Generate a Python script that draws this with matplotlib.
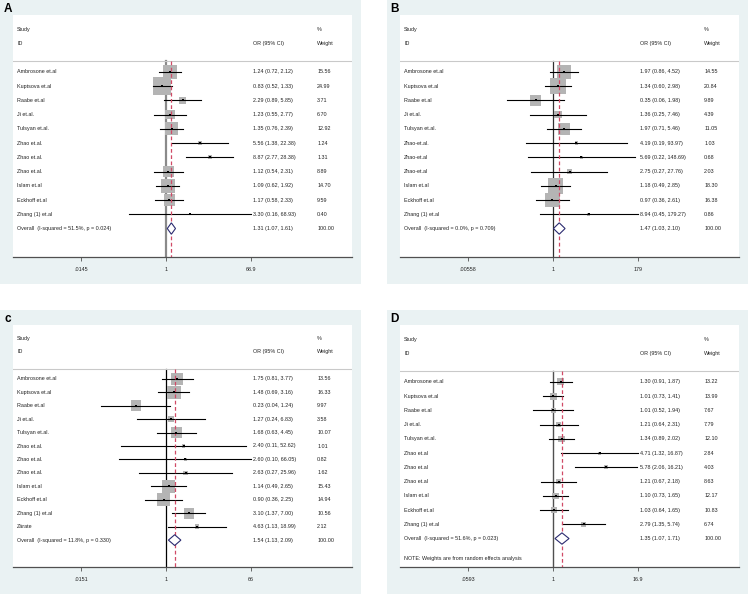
import numpy as np
import matplotlib.pyplot as plt
from matplotlib.patches import Rectangle, Polygon
from matplotlib.ticker import NullLocator
from matplotlib.transforms import blended_transform_factory

plt.rcParams['font.family'] = ['Liberation Sans', 'DejaVu Sans']

# ---- panel A ----
names_a = ["Ambrosone et.al", "Kuptsova et.al", "Raabe et.al", "Ji et.al.", "Tulsyan et.al.",
           "Zhao et.al.", "Zhao et.al.", "Zhao et.al.", "Islam et.al", "Eckhoff et.al",
           "Zhang (1) et.al"]
or_a = [1.24, 0.83, 2.29, 1.23, 1.35, 5.56, 8.87, 1.12, 1.09, 1.17, 3.30]
lo_a = [0.72, 0.52, 0.89, 0.55, 0.76, 1.38, 2.77, 0.54, 0.62, 0.58, 0.16]
hi_a = [2.12, 1.33, 5.85, 2.77, 2.39, 22.38, 28.38, 2.31, 1.92, 2.33, 68.93]
wt_a = [15.56, 24.99, 3.71, 6.70, 12.92, 1.24, 1.31, 8.89, 14.70, 9.59, 0.40]
overall_a = [1.31, 1.07, 1.61]
het_a = "Overall  (I-squared = 51.5%, p = 0.024)"
ticks_a = [".0145", "1", "68.9"]
tickmax_a = 68.9

# ---- panel B ----
names_b = ["Ambrosone et.al", "Kuptsova et.al", "Raabe et.al", "Ji et.al.", "Tulsyan et.al.",
           "Zhao-et.al.", "Zhao-et.al", "Zhao-et.al", "Islam et.al", "Eckhoff et.al",
           "Zhang (1) et.al"]
or_b = [1.97, 1.34, 0.35, 1.36, 1.97, 4.19, 5.69, 2.75, 1.18, 0.97, 8.94]
lo_b = [0.86, 0.60, 0.06, 0.25, 0.71, 0.19, 0.22, 0.27, 0.49, 0.36, 0.45]
hi_b = [4.52, 2.98, 1.98, 7.46, 5.46, 93.97, 148.69, 27.76, 2.85, 2.61, 179.27]
wt_b = [14.55, 20.84, 9.89, 4.39, 11.05, 1.03, 0.68, 2.03, 18.30, 16.38, 0.86]
overall_b = [1.47, 1.03, 2.10]
het_b = "Overall  (I-squared = 0.0%, p = 0.709)"
ticks_b = [".00558", "1", "179"]
tickmax_b = 179

# ---- panel c ----
names_c = ["Ambrosone et.al", "Kuptsova et.al", "Raabe et.al", "Ji et.al.", "Tulsyan et.al.",
           "Zhao et.al.", "Zhao et.al.", "Zhao et.al.", "Islam et.al", "Eckhoff et.al",
           "Zhang (1) et.al", "Zárate"]
or_c = [1.75, 1.48, 0.23, 1.27, 1.68, 2.40, 2.60, 2.63, 1.14, 0.90, 3.10, 4.63]
lo_c = [0.81, 0.69, 0.04, 0.24, 0.63, 0.11, 0.10, 0.27, 0.49, 0.36, 1.37, 1.13]
hi_c = [3.77, 3.16, 1.24, 6.83, 4.45, 52.62, 66.05, 25.96, 2.65, 2.25, 7.00, 18.99]
wt_c = [13.56, 16.33, 9.97, 3.58, 10.07, 1.01, 0.82, 1.62, 15.43, 14.94, 10.56, 2.12]
overall_c = [1.54, 1.13, 2.09]
het_c = "Overall  (I-squared = 11.8%, p = 0.330)"
ticks_c = [".0151", "1", "66"]
tickmax_c = 66

# ---- panel D ----
names_d = ["Ambrosone et.al", "Kuptsova et.al", "Raabe et.al", "Ji et.al.", "Tulsyan et.al.",
           "Zhao et.al", "Zhao et.al", "Zhao et.al", "Islam et.al", "Eckhoff et.al",
           "Zhang (1) et.al"]
or_d = [1.30, 1.01, 1.01, 1.21, 1.34, 4.71, 5.78, 1.21, 1.10, 1.03, 2.79]
lo_d = [0.91, 0.73, 0.52, 0.64, 0.89, 1.32, 2.06, 0.67, 0.73, 0.64, 1.35]
hi_d = [1.87, 1.41, 1.94, 2.31, 2.02, 16.87, 16.21, 2.18, 1.65, 1.65, 5.74]
wt_d = [13.22, 13.99, 7.67, 7.79, 12.10, 2.84, 4.03, 8.63, 12.17, 10.83, 6.74]
overall_d = [1.35, 1.07, 1.71]
het_d = "Overall  (I-squared = 51.6%, p = 0.023)"
ticks_d = [".0593", "1", "16.9"]
tickmax_d = 16.9
note_d = "NOTE: Weights are from random effects analysis"

W, H = 751, 597
BG = '#eaf2f3'
FS = 3.9

fig = plt.figure(figsize=(W / 100, H / 100), dpi=100)
fig.patch.set_facecolor('white')


def panel(gx, gy, letter, names, ors, los, his, wts, overall, het, ticks, tmax,
          box_k, null_color, null_lw, note=None):
    # light graph region behind the white plot region
    fig.add_artist(Rectangle((gx / W, 1 - (gy + 284) / H), 361 / W, 284 / H,
                             transform=fig.transFigure, facecolor=BG,
                             edgecolor='none', zorder=0))
    fig.text((gx + 7.5) / W, 1 - (gy + 9) / H, letter, fontsize=8.5,
             fontweight='bold', ha='center', va='center')

    ax = fig.add_axes([(gx + 13) / W, 1 - (gy + 257) / H, 339 / W, 242 / H])
    ax.set_facecolor('white')
    n = len(names) + 1
    ybot = n + 1.0
    ax.set_xscale('log')
    ax.set_xlim(tmax ** -1.8, tmax ** 2.19)
    ax.set_ylim(ybot, -4.0)

    hl = -0.75
    ax.axhline(hl, color='#c9c9c9', lw=0.8)
    ax.plot([1, 1], [hl, ybot], color=null_color, lw=null_lw, zorder=1)
    ax.plot([overall[0]] * 2, [hl, ybot], color='#d04a66', lw=0.9,
            ls=(0, (3, 2)), zorder=3.5)

    ys = np.arange(len(names))
    side_pt = box_k * np.sqrt(wts) * 0.72
    ax.scatter(ors, ys, s=side_pt ** 2, marker='s', color='#b4b4b4',
               linewidths=0, zorder=2)
    for y, lo, hi in zip(ys, los, his):
        ax.plot([lo, hi], [y, y], color='black', lw=0.8, zorder=3)
    ax.scatter(ors, ys, s=4, marker='s', color='black', linewidths=0, zorder=4)

    yo = n - 1
    est, olo, ohi = overall
    ax.add_patch(Polygon([(olo, yo), (est, yo - 0.4), (ohi, yo), (est, yo + 0.4)],
                         closed=True, facecolor='white', edgecolor='#2b2b70',
                         lw=0.8, zorder=4))

    bt = blended_transform_factory(ax.transAxes, ax.transData)
    kw = dict(fontsize=FS, va='center', ha='left', transform=bt, color='#222222')
    ax.text(0.012, -3, "Study", **kw)
    ax.text(0.012, -2, "ID", **kw)
    ax.text(0.708, -2, "OR (95% CI)", **kw)
    ax.text(0.897, -3, "%", **kw)
    ax.text(0.897, -2, "Weight", **kw)
    for y, nm, o, lo, hi, w in zip(ys, names, ors, los, his, wts):
        ax.text(0.012, y, nm, **kw)
        ax.text(0.708, y, f"{o:.2f} ({lo:.2f}, {hi:.2f})", **kw)
        ax.text(0.897, y, f"{w:.2f}", **kw)
    ax.text(0.012, yo, het, **kw)
    ax.text(0.708, yo, f"{est:.2f} ({olo:.2f}, {ohi:.2f})", **kw)
    ax.text(0.897, yo, "100.00", **kw)
    if note:
        ax.text(0.012, yo + 1.4, note, **kw)

    for s in ['top', 'left', 'right']:
        ax.spines[s].set_visible(False)
    ax.spines['bottom'].set_color('#505050')
    ax.spines['bottom'].set_linewidth(0.9)
    ax.set_yticks([])
    ax.set_xticks([1 / tmax, 1, tmax])
    ax.set_xticklabels(ticks)
    ax.xaxis.set_minor_locator(NullLocator())
    ax.tick_params(axis='x', length=3, width=0.6, color='#505050',
                   labelsize=FS, pad=4, labelcolor='#222222')
    return ax


panel(0, 0, "A", names_a, or_a, lo_a, hi_a, wt_a, overall_a, het_a, ticks_a,
      tickmax_a, 3.6, '#8a8a8a', 1.6)
panel(387, 0, "B", names_b, or_b, lo_b, hi_b, wt_b, overall_b, het_b, ticks_b,
      tickmax_b, 3.6, '#303030', 0.9)
panel(0, 310, "c", names_c, or_c, lo_c, hi_c, wt_c, overall_c, het_c, ticks_c,
      tickmax_c, 3.3, 'black', 0.9)
panel(387, 310, "D", names_d, or_d, lo_d, hi_d, wt_d, overall_d, het_d, ticks_d,
      tickmax_d, 1.9, '#505050', 1.0, note=note_d)

fig.savefig("out.png", dpi=100)
